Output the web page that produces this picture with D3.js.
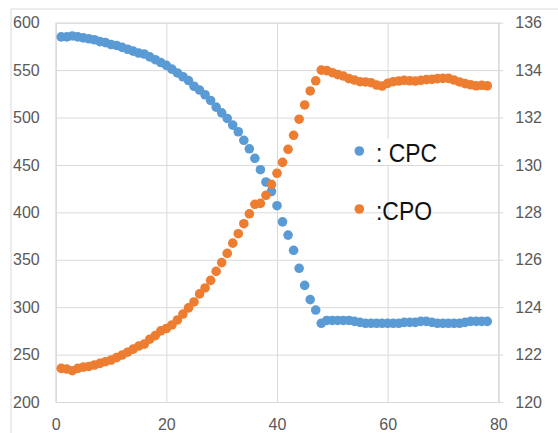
<!DOCTYPE html>
<html>
<head>
<meta charset="utf-8">
<script src="https://cdn.jsdelivr.net/npm/d3@7"></script>
<style>
    body { margin: 0; background: #fff; }
    svg { display: block; }
    .tick text { font-family: 'Liberation Sans', Arial, sans-serif; font-size: 16px; fill: #595959; }
    .legendText { font-family: 'Liberation Sans', Arial, sans-serif; font-size: 25px; fill: #111; }
</style>
</head>
<body>
<svg id="mainFrame"></svg>
<script>
// x positions: one sample per step
const steps = d3.range(1, 79);

// CPC, left axis
const cpcValues = [
    585, 585, 586, 585, 584, 583, 582, 580, 579, 577,
    576, 574, 572, 570, 568, 567, 564, 561, 558, 555,
    551, 547, 543, 539, 533, 529, 524, 518, 511, 505,
    499, 492, 485, 476, 467, 457, 445, 432, 422, 407,
    390, 376, 360, 341, 323, 308, 297, 283, 286, 286,
    286, 286, 286, 285, 284, 283, 283, 283, 283, 283,
    283, 283, 284, 284, 284, 285, 285, 284, 283, 283,
    283, 283, 283, 284, 285, 285, 285, 285
];

// CPO, right axis
const cpoValues = [
    121.42, 121.39, 121.32, 121.42, 121.47, 121.50, 121.56, 121.63, 121.70, 121.77,
    121.87, 121.98, 122.10, 122.23, 122.36, 122.44, 122.65, 122.80, 123.00, 123.10,
    123.25, 123.46, 123.71, 123.97, 124.22, 124.56, 124.81, 125.13, 125.51, 125.88,
    126.27, 126.70, 127.10, 127.52, 127.94, 128.34, 128.38, 128.72, 129.18, 129.65,
    130.11, 130.66, 131.25, 131.93, 132.53, 133.12, 133.55, 134.00, 133.98, 133.89,
    133.81, 133.75, 133.64, 133.58, 133.51, 133.50, 133.47, 133.37, 133.33, 133.44,
    133.51, 133.54, 133.57, 133.55, 133.54, 133.57, 133.60, 133.61, 133.64, 133.65,
    133.65, 133.58, 133.50, 133.43, 133.38, 133.34, 133.36, 133.34
];

const xTicks = [0, 20, 40, 60, 80];
const leftTicks = [200, 250, 300, 350, 400, 450, 500, 550, 600];
const rightTicks = [120, 122, 124, 126, 128, 130, 132, 134, 136];
const legendLabels = [': CPC', ':CPO'];

const colors = ['#5B9BD5', '#ED7D31'];

const width = 558, height = 433;
const svg = d3.select('#mainFrame')
    .attr('width', width)
    .attr('height', height);

const render = () => {
    const margin = { top: 22.7, right: 59.7, bottom: 31, left: 55.7 };
    const innerWidth = width - margin.left - margin.right;
    const innerHeight = height - margin.top - margin.bottom;

    // chart frame (only top and left edges fall inside the picture)
    svg.append('path')
        .attr('d', `M11,${height}V9H${width}`)
        .attr('fill', 'none')
        .attr('stroke', '#d9d9d9');

    const xScale = d3.scaleLinear().domain([0, 80]).range([0, innerWidth]);
    const yLeft = d3.scaleLinear().domain([200, 600]).range([innerHeight, 0]);
    const yRight = d3.scaleLinear().domain([120, 136]).range([innerHeight, 0]);

    const g = svg.append('g')
        .attr('transform', `translate(${margin.left},${margin.top})`);

    // vertical grid + bottom labels
    const xAxisGroup = g.append('g')
        .attr('transform', `translate(0,${innerHeight})`)
        .call(d3.axisBottom(xScale).tickValues(xTicks).tickSize(-innerHeight).tickPadding(17));
    xAxisGroup.select('.domain').attr('stroke', '#d9d9d9');

    // horizontal grid + left labels
    const yAxisGroup = g.append('g')
        .call(d3.axisLeft(yLeft).tickValues(leftTicks).tickSize(-innerWidth).tickPadding(16));
    yAxisGroup.select('.domain').attr('stroke', '#d9d9d9');

    // right axis with short outer ticks
    const rightGroup = g.append('g')
        .attr('transform', `translate(${innerWidth},0)`)
        .call(d3.axisRight(yRight).tickValues(rightTicks).tickSize(5).tickPadding(12).tickSizeOuter(0));
    rightGroup.select('.domain').attr('stroke', '#d9d9d9');

    svg.selectAll('.tick line').attr('stroke', '#d9d9d9');

    // legend, first entry sits on a white box that hides the grid
    const legend = svg.append('g');
    legend.append('rect')
        .attr('x', 371).attr('y', 139)
        .attr('width', 67).attr('height', 26)
        .attr('fill', '#fff');

    const series = [
        { values: cpcValues, y: yLeft, color: colors[0] },
        { values: cpoValues, y: yRight, color: colors[1] }
    ];

    series.forEach(s => {
        g.append('g').selectAll('circle')
            .data(steps)
            .enter().append('circle')
                .attr('cx', d => xScale(d))
                .attr('cy', (d, i) => s.y(s.values[i]))
                .attr('r', 4.8)
                .attr('fill', s.color);
    });

    legendLabels.forEach((label, i) => {
        const cy = 151 + i * 58;
        legend.append('circle')
            .attr('cx', 359.3).attr('cy', cy)
            .attr('r', 4.8)
            .attr('fill', colors[i]);
        legend.append('text')
            .attr('class', 'legendText')
            .attr('x', 376)
            .attr('y', cy + 11)
            .attr('textLength', i === 0 ? 61 : 56)
            .attr('lengthAdjust', 'spacingAndGlyphs')
            .text(label);
    });
};

render();
</script>
</body>
</html>
